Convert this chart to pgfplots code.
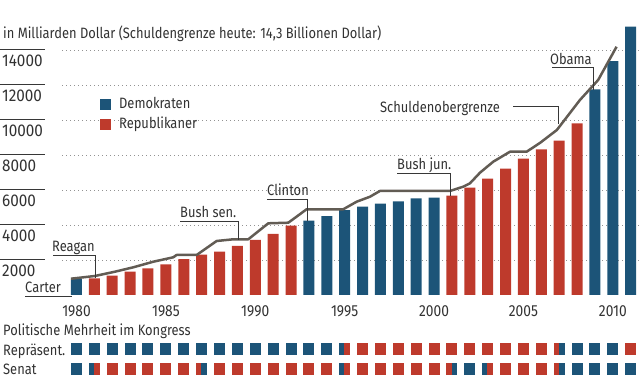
\documentclass[border=0pt]{standalone}
\usepackage{pgfplots}
\pgfplotsset{compat=1.18}
\usepackage{fontspec}
\setmainfont{Fira Sans}[FakeStretch=0.86]
\newfontfamily\numfont{Fira Sans}[FakeStretch=0.9]
\definecolor{dem}{RGB}{28,84,120}
\definecolor{rep}{RGB}{190,58,44}
\definecolor{ceil}{RGB}{98,92,84}
\definecolor{txt}{RGB}{50,50,50}
\definecolor{lead}{RGB}{55,55,55}
\pgfdeclareplotmark{sqF}{\pgfpathrectangle{\pgfpoint{-5.5bp}{-6bp}}{\pgfpoint{11bp}{12bp}}\pgfusepathqfill}
\pgfdeclareplotmark{sqL}{\pgfpathrectangle{\pgfpoint{-5.5bp}{-6bp}}{\pgfpoint{5.2bp}{12bp}}\pgfusepathqfill}
\pgfdeclareplotmark{sqR}{\pgfpathrectangle{\pgfpoint{-0.3bp}{-6bp}}{\pgfpoint{5.8bp}{12bp}}\pgfusepathqfill}
\newcommand{\txtfont}{\fontsize{15bp}{17bp}\selectfont}
\begin{document}
\begin{tikzpicture}
\path[use as bounding box] (0,0) rectangle (640bp,382bp);
\begin{axis}[
  at={(62bp,87bp)}, anchor=south west, scale only axis,
  width=578bp, height=273bp,
  xmin=1979.19, xmax=2011.52, ymin=0, ymax=15600,
  clip=false,
  axis line style={draw=none}, tick style={draw=none},
  xtick={1980,1985,...,2010},
  ytick={2000,4000,...,14000},
  scaled y ticks=false,
  /pgf/number format/.cd, 1000 sep={}, assume math mode=true, /pgfplots/.cd,
  ymajorgrids,
  grid style={gray!85, line width=0.9bp, dash pattern=on 1bp off 3bp},
  xticklabel style={anchor=north, inner sep=0pt, yshift=-10bp, text=txt, font=\fontsize{16bp}{16bp}\selectfont},
  yticklabel style={anchor=north west, inner sep=0pt, xshift=-60bp, yshift=-4.5bp, text=txt, font=\fontsize{17bp}{17bp}\selectfont\numfont},
  legend style={at={(axis description cs:0.0657,0.724)}, anchor=north west, draw=none, fill=none,
    inner sep=0pt, row sep=7bp, font=\txtfont, text=txt,
    nodes={inner sep=0pt, anchor=base west}},
  legend cell align=left,
]
\addplot[ybar, bar width=11bp, bar shift=0pt, fill=dem, draw=none,
  legend image code/.code={\fill[dem] (0bp,-1bp) rectangle (11bp,10bp);}]
  coordinates {(1980,905) (1993,4248) (1994,4514) (1995,4857) (1996,5048) (1997,5219)
   (1998,5352) (1999,5524) (2000,5562) (2009,11754) (2010,13371) (2011,15331)};
\addlegendentry{\hspace{8bp}Demokraten}
\addplot[ybar, bar width=11bp, bar shift=0pt, fill=rep, draw=none,
  legend image code/.code={\fill[rep] (0bp,-1bp) rectangle (11bp,10bp);}]
  coordinates {(1981,950) (1982,1100) (1983,1333) (1984,1524) (1985,1752) (1986,2057)
   (1987,2305) (1988,2476) (1989,2800) (1990,3143) (1991,3486) (1992,3962)
   (2001,5676) (2002,6133) (2003,6648) (2004,7219) (2005,7790) (2006,8324)
   (2007,8819) (2008,9810)};
\addlegendentry{\hspace{8bp}Republikaner}
\addplot[ceil, line width=2.5bp, line join=round, forget plot] coordinates {
 (1979.69,931) (1981.03,1086) (1982.15,1331) (1983.18,1583) (1984.30,1903)
 (1985.41,2154) (1985.60,2286) (1986.72,2286) (1987.84,3086) (1988.77,3183)
 (1989.61,3183) (1990.73,4097) (1991.85,4131) (1992.87,4897) (1994.92,4897)
 (1995.67,5331) (1996.42,5617) (1996.97,5943) (2000.89,5943) (2001.63,6189)
 (2002.01,6383) (2002.57,6989) (2003.31,7617) (2004.25,8189) (2005.18,8189)
 (2005.92,8686) (2006.87,9429) (2008.16,11143) (2009.18,12286) (2010.21,14189)};
\end{axis}
\begin{axis}[
  at={(62bp,2bp)}, anchor=south west, scale only axis,
  width=578bp, height=40bp,
  xmin=1979.19, xmax=2011.52, ymin=0, ymax=40,
  hide axis, clip=false,
]
\addplot[only marks, mark=sqF, color=dem, mark options={fill=dem, draw=none}] coordinates {
 (1980,31) (1981,31) (1982,31) (1983,31) (1984,31) (1985,31) (1986,31) (1987,31)
 (1988,31) (1989,31) (1990,31) (1991,31) (1992,31) (1993,31) (1994,31)
 (2008,31) (2009,31) (2010,31)
 (1980,11.5) (2002,11.5) (2008,11.5) (2009,11.5) (2010,11.5) (2011,11.5)};
\addplot[only marks, mark=sqF, color=rep, mark options={fill=rep, draw=none}] coordinates {
 (1996,31) (1997,31) (1998,31) (1999,31) (2000,31) (2001,31) (2002,31) (2003,31)
 (2004,31) (2005,31) (2006,31) (2011,31)
 (1982,11.5) (1983,11.5) (1984,11.5) (1985,11.5) (1986,11.5)
 (1988,11.5) (1989,11.5) (1990,11.5) (1991,11.5) (1992,11.5) (1993,11.5) (1994,11.5)
 (1996,11.5) (1997,11.5) (1998,11.5) (1999,11.5) (2000,11.5)
 (2004,11.5) (2005,11.5) (2006,11.5)};
\addplot[only marks, mark=sqL, color=dem, mark options={fill=dem, draw=none}] coordinates {
 (1995,31) (1981,11.5) (1995,11.5) (2003,11.5)};
\addplot[only marks, mark=sqR, color=rep, mark options={fill=rep, draw=none}] coordinates {
 (1995,31) (1981,11.5) (1995,11.5) (2003,11.5)};
\addplot[only marks, mark=sqL, color=rep, mark options={fill=rep, draw=none}] coordinates {
 (2007,31) (1987,11.5) (2001,11.5) (2007,11.5)};
\addplot[only marks, mark=sqR, color=dem, mark options={fill=dem, draw=none}] coordinates {
 (2007,31) (1987,11.5) (2001,11.5) (2007,11.5)};
\end{axis}
\begin{scope}[x=1bp, y=1bp, every node/.style={inner sep=0pt, text=txt, font=\txtfont}]
\node[anchor=base west] at (3,343.5) {in Milliarden Dollar (Schuldengrenze heute: 14,3 Billionen Dollar)};
\foreach \py in {50,85,120,155,190,225,260} {
  \draw[lead, line width=1bp] (0,382-\py) -- (45,382-\py);
}
\node[anchor=base west] at (3,47) {Politische Mehrheit im Kongress};
\node[anchor=base west] at (3,27) {Repräsent.};
\node[anchor=base west] at (3,8) {Senat};
\draw[lead, line width=1bp] (25,382-296.5) -- (72,382-296.5);
\node[anchor=base west] at (25,382-292) {Carter};
\node[anchor=base west] at (52,382-251) {Reagan};
\draw[lead, line width=1bp] (53,382-256) -- (95,382-256) -- (95,382-278);
\node[anchor=base west] at (180,382-217) {Bush sen.};
\draw[lead, line width=1bp] (180,382-222) -- (238,382-222) -- (238,382-240);
\node[anchor=base west] at (267,382-195) {Clinton};
\draw[lead, line width=1bp] (267,382-200) -- (307.5,382-200) -- (307.5,382-221);
\node[anchor=base west] at (397,382-169.5) {Bush jun.};
\draw[lead, line width=1bp] (397,382-173.5) -- (450,382-173.5) -- (450,382-196);
\node[anchor=base west] at (380,382-112) {Schuldenobergrenze};
\draw[lead, line width=1bp] (513,382-107) -- (558,382-107) -- (558,382-124);
\node[anchor=base west] at (550,382-64) {Obama};
\draw[lead, line width=1bp] (552,382-68) -- (593,382-68) -- (593,382-90);
\end{scope}
\end{tikzpicture}
\end{document}
